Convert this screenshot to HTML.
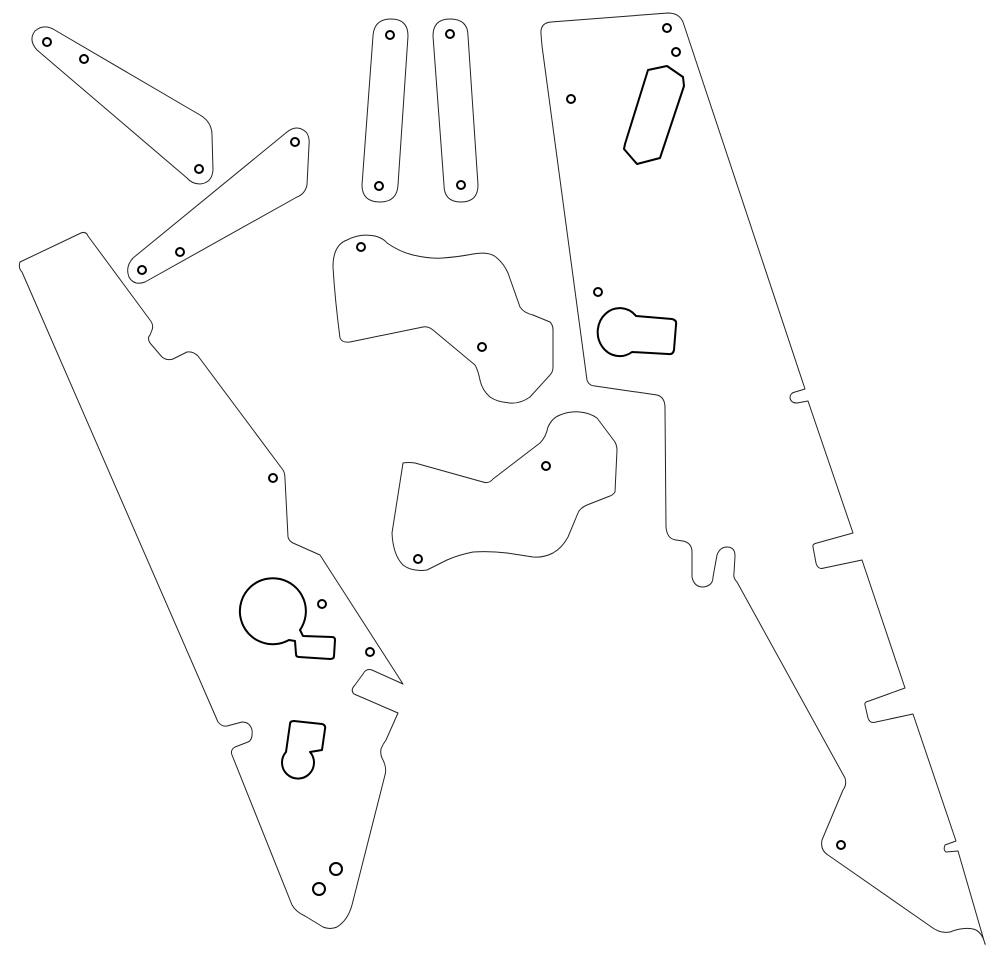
<!DOCTYPE html>
<html><head><meta charset="utf-8"><style>html,body{margin:0;padding:0;background:#fff}svg{display:block}</style></head>
<body>
<svg width="1000" height="960" viewBox="0 0 1000 960" xmlns="http://www.w3.org/2000/svg">
<g fill="none" stroke="#222" stroke-width="1" stroke-linejoin="round">
<path d="M53,29 L200,115 Q212,122 212,135 L213,170 Q212,183 200,184 Q192,184 187,178 L37,50 Q28,40 35,31 Q43,24 53,29 Z"/>
<path d="M287,132 Q297,124 306,132 Q310,137 309,145 L307,185 Q305,194 297,197 L145,282 Q134,286 129,277 Q125,267 133,258 Z"/>
<path d="M373,36 Q374,19 391,19 Q408,19 408,36 L398,185 Q397,202 380,202 Q362,202 362,185 Z"/>
<path d="M433,36 Q433,19 450,19 Q468,19 468,36 L478,185 Q478,202 461,202 Q444,202 444,185 Z"/>
<path d="M340,338 Q335,300 333,267 Q333,245 347,240 Q360,233 375,236 Q383,238 387,243 Q400,252 413,255 Q430,259 443,258 Q458,257 473,254 Q490,251 497,258 Q504,264 508,273 L520,307 Q524,313 533,315 L550,322 Q553,325 553,330 L553,367 Q553,372 550,375 L530,397 Q520,404 510,403 Q497,402 490,397 Q482,390 480,380 Q478,370 475,365 L433,330 Q428,326 423,327 L350,342 Q342,343 340,338 Z"/>
<path d="M403,463 Q408,462 415,463 L483,482 Q489,484 493,479 L540,443 Q546,437 548,427 Q552,418 560,415 Q570,411 580,412 Q590,413 597,418 L615,442 Q617,446 617,450 L615,492 Q613,495 610,496 L587,505 Q580,508 578,513 L568,537 Q562,548 553,553 Q543,558 533,557 Q520,555 507,553 Q490,551 473,552 Q458,555 447,560 Q435,566 427,570 Q412,572 403,565 Q393,555 392,533 Z"/>
<path d="M20,262 Q18,268 22,272 L218,722 Q222,727 227,726 L242,722 Q250,722 252,730 Q253,740 248,742 L235,747 Q230,750 232,755 L292,905 Q296,912 305,916 L323,927 Q330,930 337,927 Q348,920 352,905 L385,775 Q387,768 383,760 Q380,755 381,749 Q383,744 386,740 L398,713 L354,694 Q350,690 355,685 L363,674 Q366,668 372,670 L403,684 L320,555 L293,543 Q289,541 288,537 L285,479 Q285,473 283,470 L198,356 Q193,351 187,352 L173,359 Q167,361 162,357 L150,343 Q147,338 150,335 L152,330 Q154,325 150,320 L88,236 Q86,231 81,233 Z"/>
<path d="M542,46 L587,380 Q589,386 595,386 L657,395 Q665,397 665,408 L666,527 Q667,539 676,540 L683,541 Q692,543 692,552 L692,577 Q694,587 703,587 Q713,586 713,577 L717,555 Q720,547 727,547 Q735,547 735,556 L734,573 Q733,578 737,582 L845,778 Q847,785 843,790 L822,840 Q820,850 828,855 L930,926 Q940,934 950,932 Q963,927 973,929 Q979,930 983,938 Q986,946 985,944 L958,851 L946,852 Q943,850 945,845 L956,841 L913,714 L876,722 Q870,724 868,718 L865,705 Q864,702 869,701 L905,688 L862,560 L824,568 Q818,570 816,563 L813,547 Q812,544 817,543 L853,533 L808,401 L797,403 Q791,403 790,398 Q790,393 795,392 L805,389 L683,22 Q679,13 668,13 L551,22 Q540,23 541,34 Z"/>
</g>
<g fill="none" stroke="#000" stroke-width="2" stroke-linejoin="round">
<path d="M625,144 L648,70 L667,66 L683,77 L684,86 L660,158 L637,164 L624,149 Z"/>
<path d="M636,316 L672,319 Q677,320 676,325 L674,350 Q673,355 668,354 L632,352 A22,24 0 1 1 636,316 Z"/>
<path d="M300,630 L303,636 L332,637 Q335,637 335,640 L334,656 Q334,659 330,659 L299,657 Q296,657 296,654 L295,641 L289,640 A33,33 0 1 1 300,630 Z"/>
<path d="M290,724 Q290,721 294,721 L322,724 Q326,725 325,729 L322,750 L310,752 A16,16 0 1 1 286,752 Z"/>
</g>
<g fill="none" stroke="#000" stroke-width="2">
<circle cx="47" cy="42" r="4"/><circle cx="84" cy="59" r="4"/><circle cx="199" cy="169" r="4"/>
<circle cx="295" cy="142" r="4"/><circle cx="180" cy="252" r="4"/><circle cx="142" cy="270" r="4"/>
<circle cx="390" cy="35" r="4"/><circle cx="379" cy="186" r="4"/>
<circle cx="450" cy="34" r="4"/><circle cx="461" cy="185" r="4"/>
<circle cx="361" cy="247" r="4"/><circle cx="482" cy="347" r="4"/>
<circle cx="546" cy="466" r="4"/><circle cx="418" cy="559" r="4"/>
<circle cx="667" cy="28" r="4"/><circle cx="676" cy="52" r="4"/><circle cx="571" cy="99" r="4"/>
<circle cx="598" cy="292" r="4"/><circle cx="841" cy="845" r="4"/>
<circle cx="273" cy="478" r="4"/><circle cx="322" cy="604" r="4"/><circle cx="370" cy="652" r="4"/>
<circle cx="336" cy="869" r="6"/><circle cx="319" cy="889" r="6"/>
</g>
</svg>
</body></html>
